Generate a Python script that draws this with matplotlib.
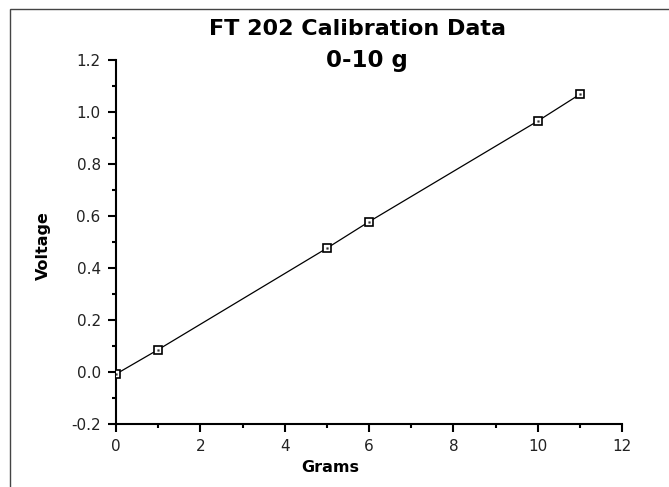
import matplotlib
matplotlib.use("Agg")
import matplotlib.pyplot as plt
from matplotlib.patches import Rectangle

grams = [0, 1, 5, 6, 10, 11]
voltage = [-0.008, 0.086, 0.476, 0.578, 0.965, 1.068]
title_line1 = "FT 202 Calibration Data"
title_line2 = "0-10 g"
xlabel = "Grams"
ylabel = "Voltage"
xticks = [0, 2, 4, 6, 8, 10, 12]
yticks = [-0.2, 0.0, 0.2, 0.4, 0.6, 0.8, 1.0, 1.2]

W, H = 669, 487
fig = plt.figure(figsize=(W / 100, H / 100), dpi=100)
fig.patch.set_facecolor("white")

# outer frame
fig.patches.append(Rectangle((10 / W, -0.1), 1.2, 1 - 9 / H + 0.1, transform=fig.transFigure,
                             fill=False, edgecolor="#444444", linewidth=1.0))

ax = fig.add_axes([116 / W, 1 - 424 / H, (622 - 116) / W, (424 - 60) / H])
ax.plot(grams, voltage, color="black", linewidth=0.9, zorder=2)
ax.plot(grams, voltage, linestyle="none", marker="s", markersize=5.5,
        markerfacecolor="white", markeredgecolor="black", markeredgewidth=1.2, zorder=3)
ax.plot(grams, voltage, linestyle="none", marker="s", markersize=1.2,
        markerfacecolor="#333333", markeredgecolor="#333333", markeredgewidth=0.3, zorder=4)

ax.set_xlim(0, 12)
ax.set_ylim(-0.2, 1.2)
ax.set_xticks(xticks)
ax.set_yticks(yticks)
ax.set_xticklabels([str(t) for t in xticks])
ax.set_yticklabels([f"{t:.1f}" for t in yticks])
ax.set_xticks([1, 3, 5, 7, 9, 11], minor=True)
ax.set_yticks([-0.1, 0.1, 0.3, 0.5, 0.7, 0.9, 1.1], minor=True)

for s in ["top", "right"]:
    ax.spines[s].set_visible(False)
for s in ["left", "bottom"]:
    ax.spines[s].set_linewidth(1.5)
    ax.spines[s].set_color("black")

ax.tick_params(axis="both", which="major", direction="out", length=6, width=1.5,
               labelsize=11, pad=5, colors="black")
ax.tick_params(axis="both", which="minor", direction="out", length=3.2, width=1.5)
for lbl in ax.get_xticklabels() + ax.get_yticklabels():
    lbl.set_color("#222222")

fig.text(358 / W, 1 - 29 / H, title_line1, ha="center", va="center",
         fontsize=16, fontweight="bold")
fig.text(367 / W, 1 - 61 / H, title_line2, ha="center", va="center",
         fontsize=16.5, fontweight="bold")
fig.text(330 / W, 1 - 468 / H, xlabel, ha="center", va="center",
         fontsize=11.5, fontweight="bold")
fig.text(43 / W, 1 - 246 / H, ylabel, ha="center", va="center", rotation=90,
         fontsize=11.5, fontweight="bold")

fig.savefig("out.png", dpi=100, facecolor="white")
